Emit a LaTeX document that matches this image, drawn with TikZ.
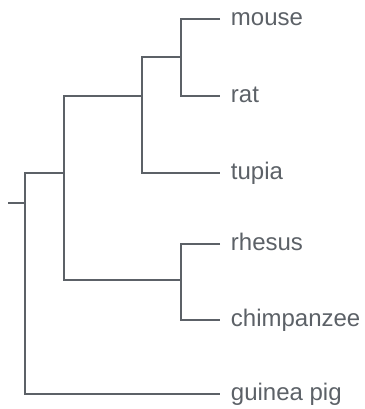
\documentclass[tikz,border=0pt]{standalone}
\usepackage{fontspec}
\setmainfont{Liberation Sans}
\usetikzlibrary{positioning}
\definecolor{treegray}{HTML}{5C6167}

\begin{document}
\begin{tikzpicture}[
x=0.75pt,y=-0.75pt,
leaf/.style={
  anchor=west,
  inner xsep=8pt,
  inner ysep=0pt,
  text height=9.4pt,
  text depth=0pt,
  text=treegray,
  font=\fontsize{18}{20}\selectfont
  },
branch/.style={
  draw=treegray,
  line width=0.9pt
  }
]
\useasboundingbox (0,0) rectangle (364,409);

% leaves
\node[leaf] (mouse) at (220,19) {mouse};
\node[leaf] (rat) at (220,96) {rat};
\node[leaf] (tupia) at (220,173) {tupia};
\node[leaf] (rhesus) at (220,244) {rhesus};
\node[leaf] (chimp) at (220,320) {chimpanzee};
\node[leaf] (guinea) at (220,394) {guinea pig};

% inner nodes
\coordinate (murid) at (181,57);
\coordinate (glires) at (142,96);
\coordinate (primate) at (181,280);
\coordinate (euarch) at (64,173);
\coordinate (top) at (25,203);
\coordinate (root) at (8,203);

\draw[branch] (mouse.west) -| (murid) |- (rat.west);
\draw[branch] (murid) -| (glires) |- (tupia.west);
\draw[branch] (rhesus.west) -| (primate) |- (chimp.west);
\draw[branch] (glires) -| (euarch) |- (primate);
\draw[branch] (euarch) -| (top) |- (guinea.west);
\draw[branch] (root) -- (top);

\end{tikzpicture}
\end{document}
